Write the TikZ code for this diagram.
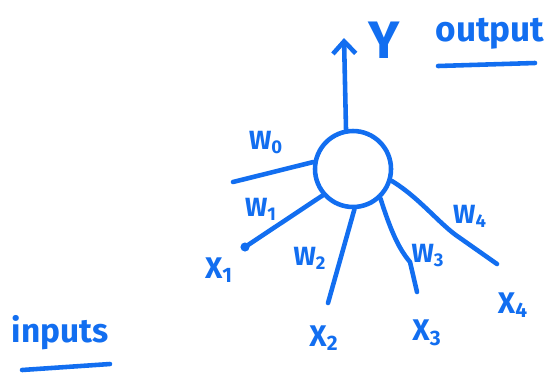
\documentclass[tikz,border=0pt]{standalone}
\usepackage{fontspec}
\setmainfont{Fira Sans}
\usetikzlibrary{arrows.meta}
\definecolor{ink}{RGB}{18,110,240}
\tikzset{
  pen/.style={draw=ink, line width=2.6pt, line cap=round, line join=round},
  lbl/.style={text=ink, inner sep=0pt, font=\fontsize{17}{19}\selectfont\bfseries},
  wlbl/.style={text=ink, inner sep=0pt, font=\fontsize{15}{17}\selectfont\bfseries},
}
\begin{document}
\begin{tikzpicture}[x=0.02cm, y=-0.02cm]
  \useasboundingbox (0,0) rectangle (560,373);
  % neuron
  \node[pen, circle, minimum size=1.52cm, inner sep=0pt] (neuron) at (353,169) {};
  % output
  \coordinate (yend) at (344,38);
  \draw[pen, -{Straight Barb[length=7pt, width=13pt, line width=2.6pt]}] (neuron.100) -- (yend);
  \node[text=ink, font=\fontsize{30}{32}\selectfont\bfseries, inner sep=0pt] (y) at (384,40) {Y};
  \node[lbl, font=\fontsize{20}{22}\selectfont\bfseries] (output) at (490,34) {output};
  \draw[pen] (438,66) -- (535,63);
  % inputs
  \coordinate (x0) at (233,182);
  \coordinate (x1) at (245,247);
  \coordinate (x2) at (328,303);
  \coordinate (x3) at (417,292);
  \coordinate (x4) at (497,264);
  \draw[pen] (x0) -- (neuron.170);
  \draw[pen] (x1) -- (neuron.221);
  \fill[ink] (x1) circle (2.6pt);
  \draw[pen] (x2) -- (neuron.272);
  \draw[pen] (neuron.313) .. controls (392,235) and (400,250) .. (410,262) -- (x3);
  \draw[pen] (neuron.343) .. controls (420,198) and (440,225) .. (460,238) -- (x4);
  % weights
  \node[wlbl] (w0) at (266,143) {W\textsubscript{0}};
  \node[wlbl] (w1) at (261,209) {W\textsubscript{1}};
  \node[wlbl] (w2) at (310,258) {W\textsubscript{2}};
  \node[wlbl] (w3) at (428,256) {W\textsubscript{3}};
  \node[wlbl] (w4) at (470,216) {W\textsubscript{4}};
  % input labels
  \node[lbl] (lx1) at (219,270) {X\textsubscript{1}};
  \node[lbl] (lx2) at (324,338) {X\textsubscript{2}};
  \node[lbl] (lx3) at (427,333) {X\textsubscript{3}};
  \node[lbl] (lx4) at (513,305) {X\textsubscript{4}};
  \node[lbl, font=\fontsize{19}{21}\selectfont\bfseries] (inputs) at (60,333) {inputs};
  \draw[pen] (22,370) -- (110,364);
\end{tikzpicture}
\end{document}
